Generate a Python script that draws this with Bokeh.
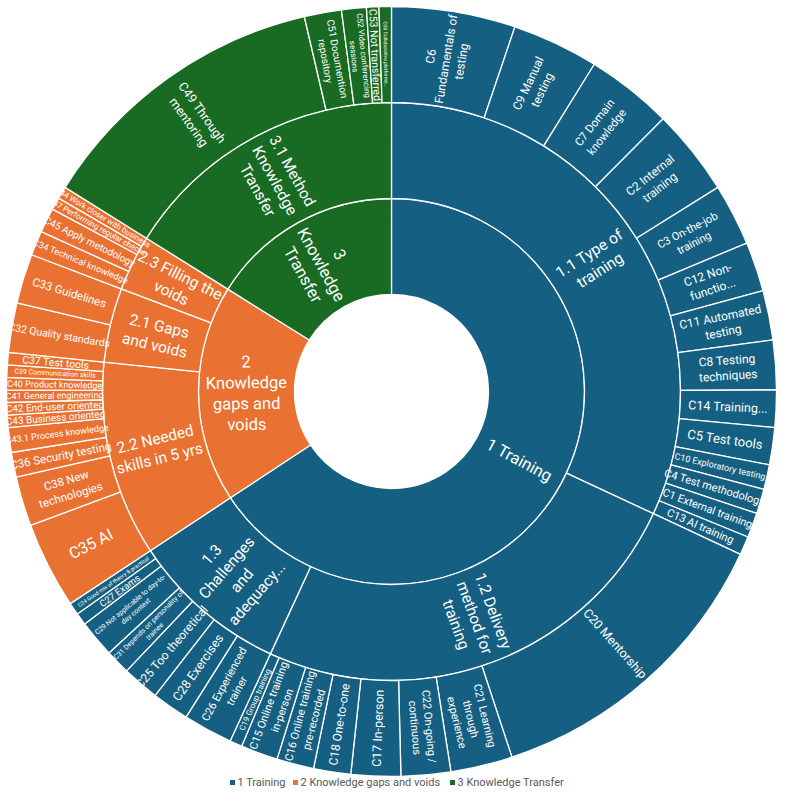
import math
from bokeh.plotting import figure
from bokeh.models import Range1d, ColumnDataSource
from bokeh.core.properties import value
from bokeh.embed import file_html
from bokeh.resources import INLINE

# ---------------- data ----------------
top_names = ["1 Training", "2 Knowledge gaps and voids", "3 Knowledge Transfer"]
top_labels = ["1 Training", "2\nKnowledge\ngaps and\nvoids", "3\nKnowledge\nTransfer"]
top_colors = ["#156082", "#E97132", "#196B24"]

mid_names = ["1.1 Type of training", "1.2 Delivery method for training",
             "1.3 Challenges and adequacy...", "2.2 Needed skills in 5 yrs",
             "2.1 Gaps and voids", "2.3 Filling the voids", "3.1 Method Knowledge Transfer"]
mid_parent = [0, 0, 0, 1, 1, 1, 2]
mid_labels = ["1.1 Type of\ntraining", "1.2 Delivery\nmethod for\ntraining",
              "1.3\nChallenges\nand\nadequacy...", "2.2 Needed\nskills in 5 yrs",
              "2.1 Gaps\nand voids", "2.3 Filling the\nvoids", "3.1 Method\nKnowledge\nTransfer"]

leaf_names = ["C6", "C9", "C7", "C2", "C3", "C12", "C11", "C8", "C14", "C5", "C10", "C4", "C1", "C13",
              "C20", "C21", "C22", "C17", "C18", "C16", "C15", "C19",
              "C26", "C28", "C25", "C31", "C29", "C27", "C24",
              "C35", "C38", "C36", "C43.1", "C43", "C42", "C41", "C40", "C39", "C37",
              "C32", "C33",
              "C34", "C45", "C47", "C44",
              "C49", "C51", "C52", "C53", "C50"]
leaf_parent = [0] * 14 + [1] * 8 + [2] * 7 + [3] * 10 + [4] * 2 + [5] * 4 + [6] * 5
leaf_values = [10, 7, 7, 7, 5, 4, 4, 4, 3, 3, 2, 2, 2, 1.5,
               25, 5, 4, 4, 3, 3, 3, 1,
               4, 3, 3, 2, 3, 1, 1,
               7, 4, 2, 2, 1, 1, 1, 1, 1, 1,
               4, 4,
               2, 2, 1, 1,
               24, 3, 2, 1, 1]
leaf_labels = ["C6\nFundamentals of\ntesting", "C9 Manual\ntesting", "C7 Domain\nknowledge",
               "C2 Internal\ntraining", "C3 On-the-job\ntraining", "C12 Non-\nfunctio...",
               "C11 Automated\ntesting", "C8 Testing\ntechniques", "C14 Training...",
               "C5 Test tools", "C10 Exploratory testing", "C4 Test methodology",
               "C1 External training", "C13 AI training",
               "C20 Mentorship", "C21 Learning\nthrough\nexperience", "C22 On-going /\ncontinuous",
               "C17 In-person", "C18 One-to-one", "C16 Online training\npre-recorded",
               "C15 Online training\nin-person", "C19 Group training",
               "C26 Experienced\ntrainer", "C28 Exercises", "C25 Too theoretical",
               "C31 Depends on personality of\ntrainee", "C29 Not applicable to day-to-\nday context",
               "C27 Exams", "C24 Good mix of theory & practical",
               "C35 AI", "C38 New\ntechnologies", "C36 Security testing", "C43.1 Process knowledge",
               "C43 Business oriented", "C42 End-user oriented", "C41 General engineering",
               "C40 Product knowledge", "C39 Communication skills", "C37 Test tools",
               "C32 Quality standards", "C33 Guidelines",
               "C34 Technical knowledge", "C45 Apply metodology", "C47 Performing regular checks",
               "C44 Work closer with business",
               "C49 Through\nmentoring", "C51 Documention\nrepository", "C52 Video conferencing\nsessions",
               "C53 Not transferred", "C50 Collaborative platforms..."]
leaf_font = [12, 12, 11.5, 12, 11, 12, 12, 12, 12.5, 13, 9, 11, 11, 11,
             12.5, 11, 11, 12.5, 12, 11, 11, 8,
             11, 12.5, 12, 7, 7, 9.5, 5.5,
             16, 11.5, 11.5, 9, 10, 10, 9, 9, 7, 10.5,
             10.5, 11.5,
             9, 10, 8, 8,
             12.5, 10, 8, 10.5, 5]

# ---------------- geometry / style ----------------
R0, R1, R2, R3 = 97, 193, 289, 385
FONT = "Roboto"
LEG_Y = -391                      # legend row (px below centre)
LEG_MARK_X = [-159, -96, 61]      # legend square positions
LEG_TEXT_X = [-154, -91, 66]      # legend text start positions

total = sum(leaf_values)
deg_per = 360.0 / total

mid_values = [0] * len(mid_names)
for v, pa in zip(leaf_values, leaf_parent):
    mid_values[pa] += v
top_values = [0] * len(top_names)
for v, pa in zip(mid_values, mid_parent):
    top_values[pa] += v


def spans(vals):
    out, acc = [], 0.0
    for v in vals:
        out.append((acc * deg_per, (acc + v) * deg_per))
        acc += v
    return out


def ring_source(vals, colors, labels, sizes, ri, ro):
    sp = spans(vals)
    d = dict(start=[], end=[], color=[], lx=[], ly=[], ang=[], text=[], size=[])
    rm = (ri + ro) / 2.0
    for (t1, t2), c, lab, s in zip(sp, colors, labels, sizes):
        d["start"].append(math.radians(90 - t2))
        d["end"].append(math.radians(90 - t1))
        d["color"].append(c)
        tm = (t1 + t2) / 2.0
        d["lx"].append(rm * math.sin(math.radians(tm)))
        d["ly"].append(rm * math.cos(math.radians(tm)))
        rot = 90 - tm if tm <= 180 else 270 - tm
        d["ang"].append(math.radians(rot))
        d["text"].append(lab)
        d["size"].append(f"{s}px")
    return ColumnDataSource(d)


p = figure(width=777, height=791, x_range=Range1d(-391, 386), y_range=Range1d(-400, 391),
           output_backend="svg", toolbar_location=None, min_border=0,
           x_axis_location=None, y_axis_location=None)
p.grid.visible = False
p.outline_line_color = None

mid_colors = [top_colors[pa] for pa in mid_parent]
leaf_colors = [top_colors[mid_parent[pa]] for pa in leaf_parent]

rings = [
    ring_source(top_values, top_colors, top_labels, [16.5] * 3, R0, R1),
    ring_source(mid_values, mid_colors, mid_labels, [15.5] * 7, R1, R2),
    ring_source(leaf_values, leaf_colors, leaf_labels, leaf_font, R2, R3),
]
radii = [(R0, R1), (R1, R2), (R2, R3)]

for src, (ri, ro) in zip(rings, radii):
    p.annular_wedge(x=0, y=0, inner_radius=ri, outer_radius=ro, start_angle="start",
                    end_angle="end", fill_color="color", line_color="white",
                    line_width=1.3, source=src)
for src in rings:
    p.text(x="lx", y="ly", text="text", angle="ang", source=src, text_font_size="size",
           text_align="center", text_baseline="middle", text_color="white",
           text_font=value(FONT), text_line_height=1.1)

# legend row
leg = ColumnDataSource(dict(mx=LEG_MARK_X, tx=LEG_TEXT_X, y=[LEG_Y] * 3,
                            name=top_names, color=top_colors))
p.rect(x="mx", y="y", width=5, height=5, fill_color="color", line_color=None, source=leg)
p.text(x="tx", y="y", text="name", source=leg, text_align="left", text_baseline="middle",
       text_font_size="11px", text_color="#595959", text_font=value(FONT))

open("out.html", "w").write(file_html(p, INLINE))
